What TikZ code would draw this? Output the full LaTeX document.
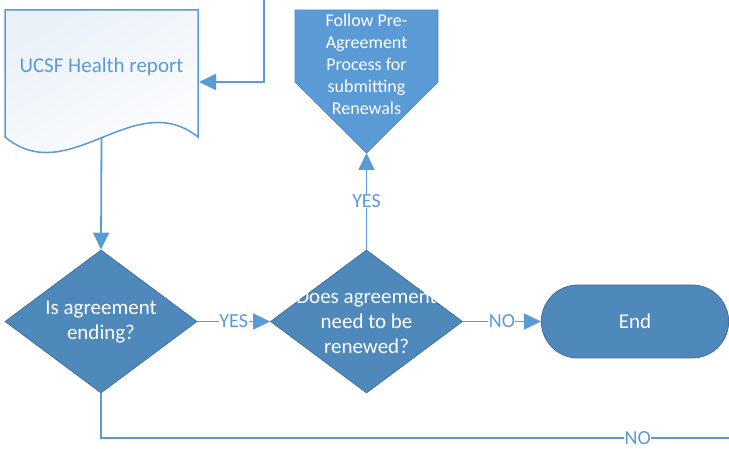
\documentclass[tikz,border=0pt]{standalone}
\usepackage{fontspec}
\setmainfont{Carlito}
\definecolor{flowblue}{RGB}{91, 155, 213}
\definecolor{decblue}{RGB}{79, 136, 187}
\definecolor{edgeblue}{RGB}{65, 113, 156}
\definecolor{docbg}{RGB}{234, 241, 249}
\usetikzlibrary{shapes.geometric, shapes.misc, arrows.meta, positioning, calc}
\tikzset{
  flow/.style={draw=flowblue, line width=1.8pt, -{Triangle[length=17pt, width=16pt]}},
  plainflow/.style={draw=flowblue, line width=1.8pt},
  answer/.style={fill=white, inner sep=0.5pt, text=flowblue, font=\fontsize{20}{24}\selectfont},
  decision/.style={diamond, draw=edgeblue, line width=0.8pt, fill=decblue, inner sep=0pt, aspect=1.34, minimum width=192pt, minimum height=143pt},
  dectext/.style={text=white, align=center, font=\fontsize{21}{25}\selectfont},
}
\begin{document}
\begin{tikzpicture}[x=1pt, y=-1pt]
  \useasboundingbox (0,0) rectangle (729,449);
  \clip (0,0) rectangle (729,449);

  % Report (document shape)
  \path[draw=flowblue, line width=1.5pt, top color=docbg, bottom color=white, shading angle=30]
    (5,10) -- (198,10) -- (198,137) .. controls (134,86) and (69,190) .. (5,137) -- cycle;
  \node[text=flowblue, font=\fontsize{21}{25}\selectfont] (report) at (101.5,67) {UCSF Health report};
  \coordinate (reportin) at (199,82);
  \coordinate (reportout) at (101.5,138);
  \coordinate (topin) at (264,-5);

  % Renewal process (off-page shape)
  \path[draw=flowblue!90!black, line width=0.8pt, fill=flowblue]
    (295,10) -- (438,10) -- (438,82) -- (366.5,153) -- (295,82) -- cycle;
  \node[text=white, align=center, font=\fontsize{18}{22}\selectfont] (follow) at (366.5,64)
    {Follow Pre-\\Agreement\\Process for\\submitting\\Renewals};
  \coordinate (followtip) at (366.5,153);

  % Decisions
  \node[decision] (ending) at (101,321.5) {};
  \node[dectext] at ($(ending)+(0,1)$) {Is agreement\\ending?};
  \node[decision] (renew) at (366.5,321.5) {};
  \node[dectext] at (renew) {Does agreement\\need to be\\renewed?};

  % End
  \node[rounded rectangle, draw=edgeblue, line width=0.8pt, fill=decblue, minimum width=194pt, minimum height=73pt,
        text=white, font=\fontsize{21}{25}\selectfont] (end) at (635,321.5) {End};
  \coordinate (offright) at (740,438);

  % Connectors
  \draw[flow] (topin) |- (reportin);
  \draw[flow] (reportout) -- (ending.north);
  \draw[flow] (ending.east) -- node[answer] {YES} (renew.west);
  \draw[flow] (renew.north) -- node[answer] {YES} (followtip);
  \draw[flow] (renew.east) -- node[answer] {NO} (end.west);
  \draw[plainflow] (ending.south) |- node[answer, pos=0.92] {NO} (offright);
\end{tikzpicture}
\end{document}
